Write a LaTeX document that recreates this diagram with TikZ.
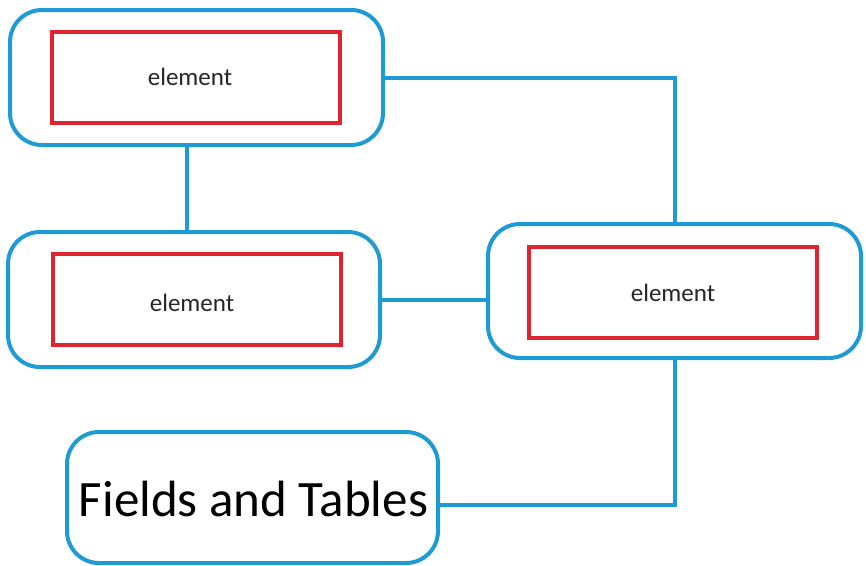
\documentclass[tikz,border=0pt]{standalone}
\usepackage{fontspec}
\setmainfont{Carlito}
\definecolor{lineblue}{RGB}{30,155,212}
\definecolor{boxred}{RGB}{222,36,46}
\begin{document}
\begin{tikzpicture}[x=1pt,y=-1pt,
  outerbox/.style={draw=lineblue,line width=4pt,rounded corners=32pt,inner sep=0pt},
  innerbox/.style={draw=boxred,line width=3.5pt,minimum width=288pt,minimum height=91pt,inner sep=0pt},
  elabel/.style={inner sep=0pt,font=\fontsize{25}{29}\selectfont,text=black!85},
  link/.style={draw=lineblue,line width=4pt}]
\useasboundingbox[fill=white] (0,0) rectangle (866,565);
% outer containers
\node[outerbox,minimum width=373pt,minimum height=135pt] (top) at (196.5,77.5) {};
\node[outerbox,minimum width=372pt,minimum height=135pt] (mid) at (194,299.5) {};
\node[outerbox,minimum width=373pt,minimum height=134pt] (right) at (674.5,291) {};
\node[outerbox,minimum width=371pt,minimum height=131pt] (fields) at (252.5,497.5) {};
\node[font=\fontsize{51}{55}\selectfont,inner sep=0pt] (fieldstext) at (253.5,499) {Fields and Tables};
% inner elements
\node[innerbox] (e1) at (196,77.5) {};
\node[innerbox] (e2) at (197,299.5) {};
\node[innerbox] (e3) at (673,292.5) {};
\node[elabel] (t1) at (190,77) {element};
\node[elabel] (t2) at (192,303) {element};
\node[elabel] (t3) at (673,293) {element};
% connectors
\coordinate (v1) at (187,0);
\coordinate (h1) at (0,505);
\draw[link] (top.south -| v1) -- (mid.north -| v1);
\draw[link] (top.east) -| (right.north);
\draw[link] (mid.east) -- (mid.east -| right.west);
\draw[link] (right.south) |- (fields.east |- h1);
\end{tikzpicture}
\end{document}
